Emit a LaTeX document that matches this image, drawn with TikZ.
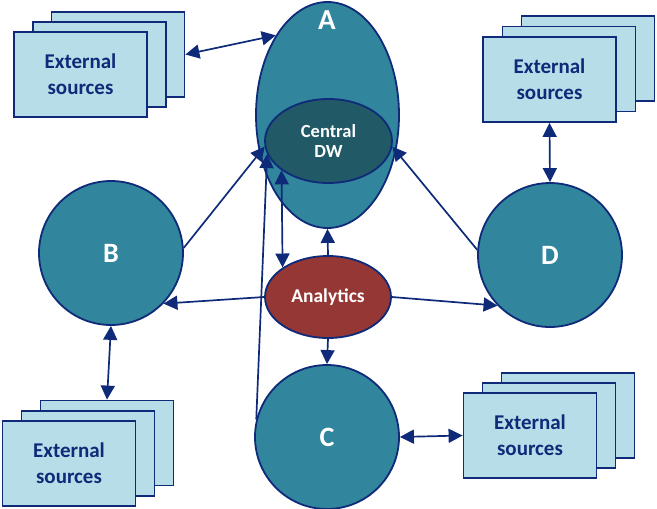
\documentclass[tikz,border=0pt]{standalone}
\usepackage{fontspec}
\setmainfont{Carlito}
\usetikzlibrary{shapes.geometric,arrows.meta}

\definecolor{navy}{RGB}{14,42,120}
\definecolor{hubteal}{RGB}{49,133,156}
\definecolor{dwteal}{RGB}{33,89,103}
\definecolor{anred}{RGB}{149,55,53}
\definecolor{extfill}{RGB}{183,222,232}

\tikzset{
  hub/.style={circle, draw=navy, line width=1.8pt, fill=hubteal,
    minimum size=144pt, inner sep=0pt, text=white,
    font=\bfseries\fontsize{28}{30}\selectfont},
  blob/.style={ellipse, draw=navy, line width=1.8pt, inner sep=0pt,
    text=white, align=center},
  srcbox/.style={rectangle, draw=navy, line width=1.8pt, fill=extfill,
    minimum width=133pt, minimum height=85pt, inner sep=0pt,
    text=navy, align=center, font=\bfseries\fontsize{21}{26}\selectfont},
  tip/.tip={Triangle[length=14pt,width=14pt]},
  link/.style={draw=navy, line width=1.7pt, -tip},
  duplex/.style={draw=navy, line width=1.7pt, tip-tip},
}

\begin{document}
\begin{tikzpicture}[x=1pt,y=-1pt]
\useasboundingbox (0,0) rectangle (657,509);

% central hub A with the warehouse inside
\node[blob, fill=hubteal, minimum width=143pt, minimum height=226pt] (A) at (327.5,115) {};
\node[text=white, font=\bfseries\fontsize{29}{30}\selectfont] (Alabel) at (327,20) {A};
\node[blob, fill=dwteal, minimum width=127pt, minimum height=84pt,
      font=\bfseries\fontsize{18.5}{20.5}\selectfont] (DW) at (328.5,141) {Central\\DW};

% analytics engine
\node[blob, fill=anred, minimum width=126pt, minimum height=82pt,
      font=\bfseries\fontsize{19.5}{21}\selectfont] (AN) at (328,297) {Analytics};

% satellite hubs
\node[hub] (B) at (111,253) {B};
\node[hub] (D) at (550,255) {D};
\node[hub] (C) at (327,437) {C};

% stacks of external sources (back to front)
\node[srcbox] (tl3) at (118,54.5) {};
\node[srcbox] (tl2) at (99.5,64.5) {};
\node[srcbox] (tl1) at (80.5,74.5) {External\\sources};

\node[srcbox] (tr3) at (588,58.5) {};
\node[srcbox] (tr2) at (569,69) {};
\node[srcbox] (tr1) at (549.5,79.5) {External\\sources};

\node[srcbox] (bl3) at (107,443) {};
\node[srcbox] (bl2) at (88,453.5) {};
\node[srcbox] (bl1) at (69,463.5) {External\\sources};

\node[srcbox] (br3) at (568,415.5) {};
\node[srcbox] (br2) at (549,425.5) {};
\node[srcbox] (br1) at (530,435.5) {External\\sources};

% connectors
\draw[duplex] (tl3.east) -- (A.123);
\draw[link] (B.4) -- (DW.185);
\draw[link] (C.166) -- (DW.192);
\draw[duplex] (DW.212.8) -- (AN.147.5);
\draw[link] (AN.north) -- (A.south);
\draw[link] (AN.south) -- (C.north);
\draw[link] (AN.west) -- (B.-44);
\draw[link] (AN.east) -- (D.224);
\draw[link] (D.176) -- (DW.-5);
\draw[duplex] (tr1.south) -- (D.north);
\draw[duplex] (B.south) -- (bl3.north);
\draw[duplex] (C.east) -- (br1.west);
\end{tikzpicture}
\end{document}
